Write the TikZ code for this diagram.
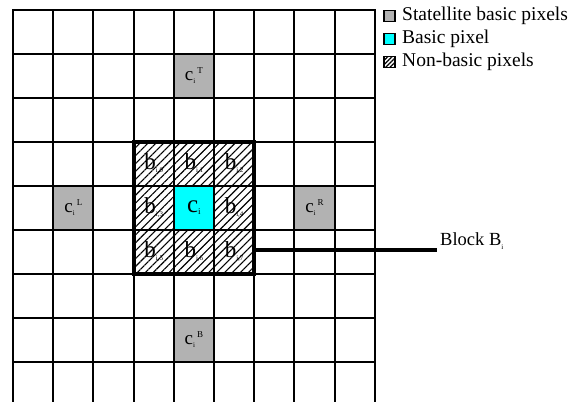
\documentclass[tikz,border=0pt]{standalone}
\usepackage{fontspec}
\setmainfont{Liberation Serif}
\usetikzlibrary{patterns.meta}
\definecolor{cyanpix}{RGB}{0,255,255}
\definecolor{satgray}{RGB}{178,178,178}
\newcommand{\satlab}[1]{{\fontsize{19}{19}\selectfont c}\rlap{\raisebox{-0.3em}{\fontsize{7}{7}\selectfont i}}\raisebox{0.75em}{\fontsize{9}{9}\selectfont\hspace{4pt}#1}}
\newcommand{\blab}[1]{{\fontsize{23}{23}\selectfont b}\raisebox{-0.25em}{\fontsize{7}{7}\selectfont i,#1}}
\begin{document}
\begin{tikzpicture}[x=1pt,y=-1pt,
  cell/.style={minimum width=40.2pt,minimum height=44pt,inner sep=0pt,outer sep=0pt,draw=black,line width=2pt},
  gridline/.style={line width=2pt,draw=black},
  satcell/.style={cell,fill=satgray},
  basecell/.style={cell,fill=cyanpix},
  hatchcell/.style={cell,text=black,pattern={Lines[angle=45,distance=5.6pt,line width=1.1pt]}},
  blockbox/.style={draw=black,line width=4pt,minimum width=120.6pt,minimum height=132pt,inner sep=0pt},
  legbox/.style={draw=black,line width=1.5pt,minimum width=11pt,minimum height=11pt,inner sep=0pt},
  legtext/.style={anchor=west,inner sep=0pt,font=\fontsize{19.5}{19.5}\selectfont},
  leader/.style={line width=3.5pt,draw=black}]
\useasboundingbox (0,0) rectangle (576,402);
% background grid
\foreach \c in {0,...,8} {
  \foreach \r in {0,...,7} {
    \node[cell] (g-\c-\r) at ({13+40.2*(\c+0.5)},{9.5+44*(\r+0.5)}) {};
  }
}
\foreach \c in {0,...,9} {
  \draw[gridline] ({13+40.2*\c},361.5) -- ({13+40.2*\c},402);
}
% satellite basic pixels
\node[satcell] (cT) at (193.9,75.5) {\satlab{T}};
\node[satcell] (cL) at (73.3,207.5) {\satlab{L}};
\node[satcell] (cR) at (314.5,207.5) {\satlab{R}};
\node[satcell] (cB) at (193.9,339.5) {\satlab{B}};
% block
\node[hatchcell] (b0) at (153.7,163.5) {\blab{0}};
\node[hatchcell] (b1) at (193.9,163.5) {\blab{1}};
\node[hatchcell] (b2) at (234.1,163.5) {\blab{2}};
\node[hatchcell] (b3) at (153.7,207.5) {\blab{3}};
\node[basecell] (ci) at (193.9,207.5) {{\fontsize{25}{25}\selectfont c}\raisebox{-0.25em}{\fontsize{9}{9}\selectfont i}};
\node[hatchcell] (b4) at (234.1,207.5) {\blab{4}};
\node[hatchcell] (b5) at (153.7,251.5) {\blab{5}};
\node[hatchcell] (b6) at (193.9,251.5) {\blab{6}};
\node[hatchcell] (b7) at (234.1,251.5) {\blab{7}};
\node[blockbox] (block) at (193.9,207.5) {};
% label of the block
\coordinate (leadend) at (437,250);
\draw[leader] (block.east |- leadend) -- (leadend);
\node[anchor=base west,inner sep=0pt,font=\fontsize{18.5}{18.5}\selectfont] (blocklab) at (440,245) {Block B\raisebox{-0.25em}{\fontsize{7}{7}\selectfont i}};
% legend
\node[legbox,fill=satgray] (l1) at (389.5,16) {};
\node[legtext] (t1) at (402,16) {Statellite basic pixels};
\node[legbox,fill=cyanpix] (l2) at (389.5,39) {};
\node[legtext] (t2) at (402,39) {Basic pixel};
\node[legbox,pattern={Lines[angle=45,distance=3pt,line width=1.2pt]}] (l3) at (389.5,62) {};
\node[legtext] (t3) at (402,62) {Non-basic pixels};
\end{tikzpicture}
\end{document}
